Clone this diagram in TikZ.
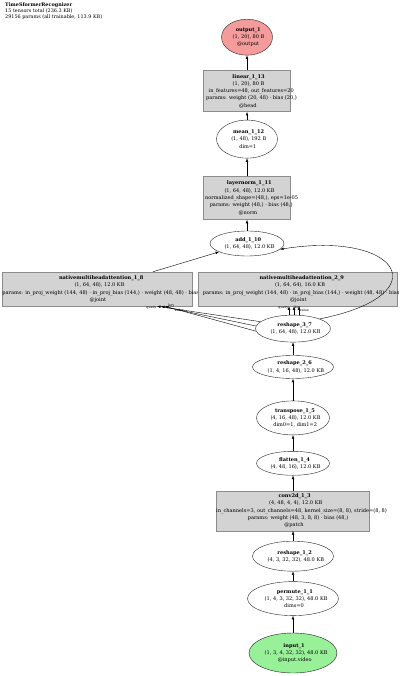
\documentclass[tikz,border=0pt]{standalone}
\usepackage{fontspec}
\setmainfont{DejaVu Serif}
\usetikzlibrary{arrows.meta,positioning,shapes.geometric}
\definecolor{opgray}{HTML}{D3D3D3}
\definecolor{outred}{HTML}{F49C9C}
\definecolor{ingreen}{HTML}{98F098}
\newsavebox{\rowbox}
\newcommand{\trow}[1]{\sbox{\rowbox}{#1}%
  \makebox[0pt]{\hspace{0.1\wd\rowbox}\usebox{\rowbox}}}

\begin{document}
\begin{tikzpicture}[x=1pt,y=-1pt,
  >={Latex[length=3.5pt,width=2.6pt]},
  every node/.style={font=\fontsize{5.05}{7.3}\selectfont,align=center,inner sep=0pt},
  tensor/.style={ellipse,draw=black!85,line width=0.4pt},
  opbox/.style={rectangle,draw=black!45,fill=opgray,line width=0.5pt},
  flow/.style={->,line width=0.4pt},
  argtag/.style={font=\fontsize{3.4}{4}\selectfont,inner sep=0.4pt}]
  \clip (0,0) rectangle (400,676);
  \fill[white] (0,0) rectangle (400,676);

  \node[anchor=north west,align=left,font=\fontsize{4.9}{6}\selectfont] (header) at (5,3)
    {\textbf{TimeSformerRecognizer}\\15 tensors total (236.3 KB)\\
    29156 params (all trainable, 113.9 KB)};

  % input side chain
  \node[tensor,fill=ingreen,minimum width=88pt,minimum height=40pt] (input1) at (293,653)
    {\trow{\textbf{input\_1}}\\\trow{(1, 3, 4, 32, 32), 48.0 KB}\\\trow{@input.video}};
  \node[tensor,minimum width=91pt,minimum height=34pt,above=17pt of input1] (permute11)
    {\trow{\textbf{permute\_1\_1}}\\\trow{(1, 4, 3, 32, 32), 48.0 KB}\\\trow{dims=0}};
  \node[tensor,minimum width=81pt,minimum height=30pt,above=10pt of permute11] (reshape12)
    {\trow{\textbf{reshape\_1\_2}}\\\trow{(4, 3, 32, 32), 48.0 KB}};
  \node[opbox,minimum width=153pt,minimum height=40pt,above=10pt of reshape12] (conv13)
    {\trow{\textbf{conv2d\_1\_3}}\\\trow{(4, 48, 4, 4), 12.0 KB}\\
    \trow{in\_channels=3, out\_channels=48, kernel\_size=(8, 8), stride=(8, 8)}\\
    \trow{params: weight (48, 3, 8, 8) · bias (48,)}\\\trow{@patch}};
  \node[tensor,minimum width=73pt,minimum height=24pt,above=15pt of conv13] (flatten14)
    {\trow{\textbf{flatten\_1\_4}}\\\trow{(4, 48, 16), 12.0 KB}};
  \node[tensor,minimum width=73pt,minimum height=34pt,above=16pt of flatten14] (transpose15)
    {\trow{\textbf{transpose\_1\_5}}\\\trow{(4, 16, 48), 12.0 KB}\\\trow{dim0=1, dim1=2}};
  \node[tensor,minimum width=81pt,minimum height=23pt,above=22pt of transpose15] (reshape26)
    {\trow{\textbf{reshape\_2\_6}}\\\trow{(1, 4, 16, 48), 12.0 KB}};
  \node[tensor,minimum width=75pt,minimum height=27pt,above=13pt of reshape26] (reshape37)
    {\trow{\textbf{reshape\_3\_7}}\\\trow{(1, 64, 48), 12.0 KB}};

  % attention blocks
  \node[opbox,minimum width=190pt,minimum height=34pt] (attn18) at (97,289)
    {\trow{\textbf{nativemultiheadattention\_1\_8}}\\\trow{(1, 64, 48), 12.0 KB}\\
    \trow{params: in\_proj\_weight (144, 48) · in\_proj\_bias (144,) · weight (48, 48) · bias (48,)}\\
    \trow{@joint}};
  \node[opbox,minimum width=199pt,minimum height=34pt] (attn29) at (297.5,289)
    {\trow{\textbf{nativemultiheadattention\_2\_9}}\\\trow{(1, 64, 64), 16.0 KB}\\
    \trow{params: in\_proj\_weight (144, 48) · in\_proj\_bias (144,) · weight (48, 48) · bias (48,)}\\
    \trow{@joint}};

  % head chain
  \node[tensor,minimum width=74pt,minimum height=25pt] (add110) at (247,243.5)
    {\trow{\textbf{add\_1\_10}}\\\trow{(1, 64, 48), 12.0 KB}};
  \node[opbox,minimum width=87pt,minimum height=43pt,above=11pt of add110] (norm111)
    {\trow{\textbf{layernorm\_1\_11}}\\\trow{(1, 64, 48), 12.0 KB}\\
    \trow{normalized\_shape=(48,), eps=1e-05}\\\trow{params: weight (48,) · bias (48,)}\\
    \trow{@norm}};
  \node[tensor,minimum width=61pt,minimum height=38pt,above=18pt of norm111] (mean112)
    {\trow{\textbf{mean\_1\_12}}\\\trow{(1, 48), 192 B}\\\trow{dim=1}};
  \node[opbox,minimum width=87pt,minimum height=41pt,above=8pt of mean112] (linear113)
    {\trow{\textbf{linear\_1\_13}}\\\trow{(1, 20), 80 B}\\
    \trow{in\_features=48, out\_features=20}\\\trow{params: weight (20, 48) · bias (20,)}\\
    \trow{@head}};
  \node[tensor,fill=outred,minimum width=51pt,minimum height=36pt,above=15pt of linear113] (output1)
    {\trow{\textbf{output\_1}}\\\trow{(1, 20), 80 B}\\\trow{@output}};

  \draw[flow] (input1) -- (permute11);
  \draw[flow] (permute11) -- (reshape12);
  \draw[flow] (reshape12) -- (conv13);
  \draw[flow] (conv13) -- (flatten14);
  \draw[flow] (flatten14) -- (transpose15);
  \draw[flow] (transpose15) -- (reshape26);
  \draw[flow] (reshape26) -- (reshape37);

  \draw[flow] (reshape37.168) -- ([xshift=60pt]attn18.south)
    node[argtag,pos=1,anchor=north east]{query};
  \draw[flow] (reshape37.176) -- ([xshift=64pt]attn18.south)
    node[argtag,pos=0.93,anchor=south west]{key};
  \draw[flow] (reshape37.184) -- ([xshift=68pt]attn18.south)
    node[argtag,pos=0.9,anchor=north west]{value};

  \draw[flow] ([xshift=-4pt]reshape37.north) -- ([xshift=-4pt]reshape37.north |- attn29.south)
    node[argtag,pos=0.8,left]{query};
  \draw[flow] ([xshift=1pt]reshape37.north) -- ([xshift=1pt]reshape37.north |- attn29.south)
    node[argtag,pos=0.88,right]{key};
  \draw[flow] ([xshift=6pt]reshape37.north) -- ([xshift=6pt]reshape37.north |- attn29.south)
    node[argtag,pos=0.55,right]{value};

  \draw[flow] ([xshift=56pt]attn18.north) -- (add110);
  \draw[flow] (reshape37.20) .. controls (440,295) and (400,230) .. (add110.-10);

  \draw[flow] (add110) -- (norm111);
  \draw[flow] (norm111) -- (mean112);
  \draw[flow] (mean112) -- (linear113);
  \draw[flow] (linear113) -- (output1);
\end{tikzpicture}
\end{document}
